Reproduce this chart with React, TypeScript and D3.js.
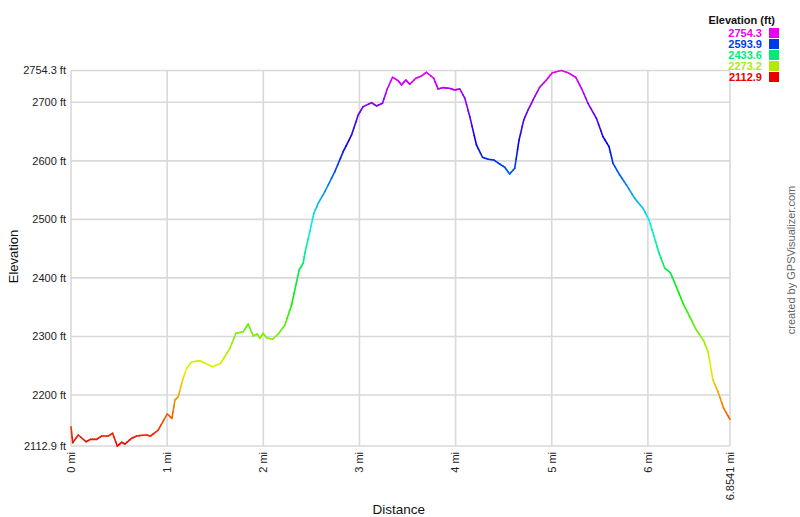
import React from "react";
import * as d3 from "d3";

// distance (mi)
const distances = [
  0, 0.018, 0.076, 0.156, 0.205, 0.267, 0.319, 0.388, 0.433, 0.481, 0.527, 0.561, 0.631, 0.683, 0.78, 0.828, 0.907,
  1.001, 1.05, 1.081, 1.115, 1.161, 1.203, 1.255, 1.341, 1.411, 1.473, 1.556, 1.653, 1.715, 1.791, 1.843, 1.895,
  1.937, 1.965, 1.999, 2.034, 2.097, 2.155, 2.225, 2.294, 2.373, 2.415, 2.432, 2.484, 2.526, 2.571, 2.64, 2.744,
  2.831, 2.918, 2.987, 3.038, 3.126, 3.178, 3.24, 3.288, 3.344, 3.402, 3.438, 3.482, 3.524, 3.586, 3.646, 3.698,
  3.773, 3.818, 3.87, 3.932, 3.992, 4.044, 4.096, 4.148, 4.217, 4.28, 4.338, 4.397, 4.459, 4.511, 4.563, 4.615,
  4.66, 4.709, 4.754, 4.806, 4.875, 4.945, 5.007, 5.101, 5.169, 5.249, 5.309, 5.377, 5.465, 5.533, 5.596, 5.637,
  5.707, 5.777, 5.863, 5.949, 6.012, 6.06, 6.115, 6.175, 6.234, 6.296, 6.365, 6.435, 6.504, 6.58, 6.625, 6.677,
  6.729, 6.788, 6.8541,
];
// elevation (ft)
const elevations = [
  2145.9, 2118.5, 2131.7, 2120.2, 2124.3, 2124.3, 2130.0, 2130.0, 2134.6, 2112.9, 2119.2, 2116.3, 2126.1, 2130.0,
  2131.7, 2130.0, 2140.2, 2167.6, 2160.2, 2191.5, 2197.1, 2225.6, 2245.6, 2256.4, 2258.6, 2253.0, 2248.4, 2254.2,
  2279.8, 2305.4, 2308.2, 2321.3, 2300.8, 2304.2, 2296.9, 2305.4, 2297.9, 2295.2, 2304.2, 2319.6, 2353.8, 2413.6,
  2425.0, 2442.1, 2479.0, 2510.4, 2527.5, 2547.3, 2581.5, 2615.6, 2644.2, 2678.3, 2692.5, 2699.3, 2693.7, 2698.3,
  2722.2, 2742.7, 2736.9, 2729.6, 2738.1, 2730.8, 2741.0, 2745.0, 2751.3, 2741.0, 2722.8, 2725.0, 2723.9, 2721.1,
  2722.8, 2706.9, 2675.4, 2627.1, 2606.1, 2602.7, 2601.5, 2594.6, 2589.0, 2577.6, 2587.3, 2635.6, 2669.8, 2686.9,
  2704.0, 2725.7, 2738.1, 2750.6, 2754.3, 2750.6, 2742.7, 2723.9, 2698.3, 2672.7, 2641.3, 2624.2, 2595.8, 2575.8,
  2558.8, 2536.0, 2518.9, 2499.0, 2473.3, 2443.1, 2416.5, 2408.9, 2385.0, 2356.7, 2333.8, 2311.1, 2292.8, 2274.0,
  2225.6, 2205.7, 2177.3, 2158.5,
];

const yMin = 2112.9;
const yMax = 2754.3;
const xMax = 6.8541;
const yTicks = [2200, 2300, 2400, 2500, 2600, 2700];
const xTicks = [0, 1, 2, 3, 4, 5, 6];
const legendValues = [2754.3, 2593.9, 2433.6, 2273.2, 2112.9];
const legendTitle = "Elevation (ft)";
const xTitle = "Distance";
const yTitle = "Elevation";
const credit = "created by GPSVisualizer.com";

const W = 800;
const H = 517;
const left = 71;
const right = 730;
const top = 70.5;
const bottom = 446;

const font = "'Liberation Sans', Arial, sans-serif";

export default function App() {
  const x = d3.scaleLinear().domain([0, xMax]).range([left, right]);
  const y = d3.scaleLinear().domain([yMin, yMax]).range([bottom, top]);
  const color = (e: number) => {
    const t = Math.max(0, Math.min(1, (e - yMin) / (yMax - yMin)));
    return d3.hsl(300 * t, 1, 0.47).formatHex();
  };
  const legendColor = (e: number) => {
    const t = Math.max(0, Math.min(1, (e - yMin) / (yMax - yMin)));
    return d3.hsl(300 * t, 1, 0.46).formatHex();
  };

  const segs: { x1: number; y1: number; x2: number; y2: number; c: string }[] = [];
  for (let i = 0; i < distances.length - 1; i++) {
    const n = 3;
    for (let k = 0; k < n; k++) {
      const a = k / n;
      const b = (k + 1) / n;
      const d1 = distances[i] + (distances[i + 1] - distances[i]) * a;
      const d2 = distances[i] + (distances[i + 1] - distances[i]) * b;
      const e1 = elevations[i] + (elevations[i + 1] - elevations[i]) * a;
      const e2 = elevations[i] + (elevations[i + 1] - elevations[i]) * b;
      segs.push({ x1: x(d1), y1: y(e1), x2: x(d2), y2: y(e2), c: color((e1 + e2) / 2) });
    }
  }

  const gridColor = "#d9d9d9";
  const hLines = [yMin, ...yTicks, yMax];
  const vLines = [...xTicks, xMax];

  return (
    <svg width={W} height={H} style={{ position: "absolute", left: 0, top: 0, background: "#fff" }}>
      <rect x={0} y={0} width={W} height={H} fill="#fff" />
      {hLines.map((v) => (
        <line key={"h" + v} x1={left} x2={right} y1={y(v)} y2={y(v)} stroke={gridColor} strokeWidth={1.6} />
      ))}
      {vLines.map((v) => (
        <line key={"v" + v} x1={x(v)} x2={x(v)} y1={top} y2={bottom} stroke={gridColor} strokeWidth={1.6} />
      ))}
      {[yMin, ...yTicks, yMax].map((v) => (
        <text
          key={"yl" + v}
          x={66}
          y={y(v)}
          dy="0.35em"
          textAnchor="end"
          fontFamily={font}
          fontSize={11}
          fill="#222"
        >
          {(v % 1 === 0 ? v.toFixed(0) : v.toFixed(1)) + " ft"}
        </text>
      ))}
      {vLines.map((v) => (
        <text
          key={"xl" + v}
          transform={`translate(${x(v)},${452}) rotate(-90)`}
          dy="0.35em"
          textAnchor="end"
          fontFamily={font}
          fontSize={11}
          fill="#222"
        >
          {(v % 1 === 0 ? v.toFixed(0) : String(v)) + " mi"}
        </text>
      ))}
      <g strokeLinecap="round" strokeWidth={1.6} fill="none">
        {segs.map((s, i) => (
          <line key={i} x1={s.x1} y1={s.y1} x2={s.x2} y2={s.y2} stroke={s.c} />
        ))}
      </g>
      <text x={398.7} y={514} textAnchor="middle" fontFamily={font} fontSize={13.5} fill="#111">
        {xTitle}
      </text>
      <text
        transform={`translate(18,256.5) rotate(-90)`}
        textAnchor="middle"
        fontFamily={font}
        fontSize={13}
        fill="#111"
      >
        {yTitle}
      </text>
      <text
        transform={`translate(795,260) rotate(-90)`}
        textAnchor="middle"
        fontFamily={font}
        fontSize={11}
        fill="#666"
      >
        {credit}
      </text>
      <text x={775} y={24} textAnchor="end" fontFamily={font} fontSize={11} fontWeight="bold" fill="#111">
        {legendTitle}
      </text>
      {legendValues.map((v, i) => (
        <g key={"lg" + v}>
          <text
            x={762}
            y={33 + i * 11}
            dy="0.35em"
            textAnchor="end"
            fontFamily={font}
            fontSize={11}
            fontWeight="bold"
            fill={legendColor(v)}
          >
            {v.toFixed(1)}
          </text>
          <rect x={769} y={33 + i * 11 - 5} width={10} height={10} fill={legendColor(v)} />
        </g>
      ))}
    </svg>
  );
}
